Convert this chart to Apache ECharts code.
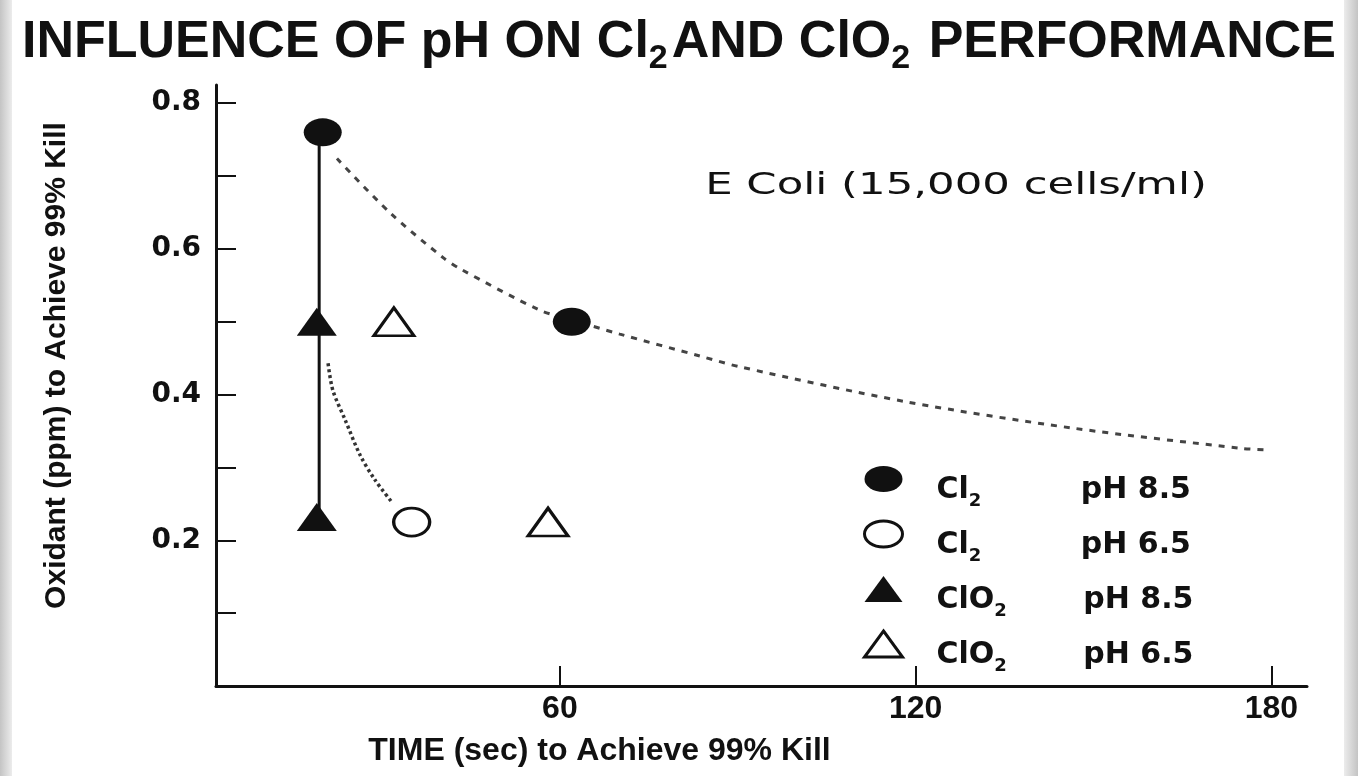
<!DOCTYPE html>
<html>
<head>
<meta charset="utf-8">
<title>Influence of pH on Cl2 and ClO2 performance</title>
<script src="https://cdn.jsdelivr.net/npm/echarts@6/dist/echarts.min.js"></script>
<style>
  html, body { margin: 0; padding: 0; background: #fff; }
  #chart { width: 1358px; height: 776px; }
</style>
</head>
<body>
<div id="chart"></div>
<script>
const seriesNames = ['Cl2 pH 8.5', 'Cl2 pH 6.5', 'ClO2 pH 8.5', 'ClO2 pH 6.5'];
const chemLabels = ['Cl', 'Cl', 'ClO', 'ClO'];
const phLabels = ['pH 8.5', 'pH 6.5', 'pH 8.5', 'pH 6.5'];

// [time (sec), oxidant (ppm)]
const cl2High = [[20, 0.76], [62, 0.5]];
const cl2Low = [[35, 0.225]];
const clo2High = [[19, 0.5], [19, 0.232]];
const clo2Low = [[32, 0.5], [58, 0.225]];
const verticalLink = [[19.4, 0.76], [19.4, 0.232]];

// hand-drawn fit curves
const cl2HighCurve = [
  [22.4, 0.724], [31.3, 0.65], [40.3, 0.588], [43.1, 0.573], [56.6, 0.516],
  [62.2, 0.502], [70.1, 0.483], [83.6, 0.453], [90.4, 0.438], [118.5, 0.39],
  [146.5, 0.354], [175.2, 0.326], [179.4, 0.324]
];
const cl2LowCurve = [
  [20.9, 0.443], [21.7, 0.406], [23.8, 0.365], [26.3, 0.317], [28.8, 0.283], [31.7, 0.252]
];

const xTicks = [60, 120, 180];
const yTicks = [0.1, 0.2, 0.3, 0.4, 0.5, 0.6, 0.7, 0.8];
const yLabels = [0.2, 0.4, 0.6, 0.8];

const ink = '#111';
const ellipseIcon = 'path://M0,10a10,10 0 1,0 20,0a10,10 0 1,0 -20,0z';
const chart = echarts.init(document.getElementById('chart'));

function markerSeries(name, data, symbol, size, hollow) {
  return {
    name: name,
    type: 'scatter',
    data: data,
    symbol: symbol,
    symbolSize: size,
    z: 5,
    itemStyle: hollow
      ? { color: '#fff', borderColor: ink, borderWidth: 3, opacity: 1 }
      : { color: ink, opacity: 1 },
    emphasis: { disabled: true }
  };
}

const legendRich = {
  c: { fontFamily: 'DejaVu Sans', fontWeight: 'bold', fontSize: 30, lineHeight: 30, verticalAlign: 'top', padding: [11, 0, 0, 29], color: ink },
  s1: { fontFamily: 'DejaVu Sans', fontWeight: 'bold', fontSize: 18, lineHeight: 18, verticalAlign: 'top', padding: [28, 0, 0, 0], width: 112, color: ink },
  s2: { fontFamily: 'DejaVu Sans', fontWeight: 'bold', fontSize: 18, lineHeight: 18, verticalAlign: 'top', padding: [28, 0, 0, 0], width: 89, color: ink },
  p: { fontFamily: 'DejaVu Sans', fontWeight: 'bold', fontSize: 30, lineHeight: 30, verticalAlign: 'top', padding: [11, 0, 0, 0], color: ink }
};

const option = {
  backgroundColor: '#fff',
  animation: false,
  title: {
    text: '{t|INFLUENCE OF pH ON Cl}{s|2}{t|AND ClO}{s|2}{t| PERFORMANCE}',
    left: 'center',
    top: 12,
    textStyle: {
      rich: {
        t: { fontFamily: 'Liberation Sans', fontWeight: 'bold', fontSize: 52, lineHeight: 54, verticalAlign: 'top', color: ink },
        s: { fontFamily: 'Liberation Sans', fontWeight: 'bold', fontSize: 34, lineHeight: 34, verticalAlign: 'top', padding: [25, 4, 0, 0], color: ink }
      }
    }
  },
  grid: {
    left: 216,
    right: 51,
    top: 85,
    bottom: 90,
    containLabel: false,
    outerBoundsMode: 'none'
  },
  xAxis: {
    type: 'value',
    min: 2,
    max: 186,
    name: 'TIME (sec) to Achieve 99% Kill',
    nameLocation: 'middle',
    nameGap: 49,
    nameTextStyle: {
      fontFamily: 'Liberation Sans', fontWeight: 'bold', fontSize: 32, color: ink,
      padding: [0, 324, 0, 0]
    },
    axisLine: { lineStyle: { color: ink, width: 3 } },
    axisTick: { inside: true, length: 20, customValues: xTicks, lineStyle: { color: ink, width: 2 } },
    axisLabel: {
      customValues: xTicks,
      margin: 7,
      fontFamily: 'Liberation Sans', fontWeight: 'bold', fontSize: 32, color: ink
    },
    splitLine: { show: false }
  },
  yAxis: {
    type: 'value',
    min: 0,
    max: 0.825,
    name: 'Oxidant (ppm) to Achieve 99% Kill',
    nameLocation: 'middle',
    nameGap: 144,
    nameTextStyle: {
      fontFamily: 'Liberation Sans', fontWeight: 'bold', fontSize: 30, color: ink,
      padding: [0, 0, 0, 40]
    },
    axisLine: { show: true, lineStyle: { color: ink, width: 3 } },
    axisTick: { show: true, inside: true, length: 20, customValues: yTicks, lineStyle: { color: ink, width: 2 } },
    axisLabel: {
      customValues: yLabels,
      formatter: v => v.toFixed(1),
      margin: 15,
      fontFamily: 'DejaVu Sans', fontWeight: 'bold', fontSize: 28, color: ink
    },
    splitLine: { show: false }
  },
  legend: {
    data: [
      { name: seriesNames[0], icon: ellipseIcon },
      { name: seriesNames[1], icon: ellipseIcon, itemStyle: { borderWidth: 3 } },
      { name: seriesNames[2] },
      { name: seriesNames[3], itemStyle: { borderWidth: 3 } }
    ],
    orient: 'vertical',
    left: 863,
    top: 464,
    padding: 0,
    itemWidth: 38,
    itemHeight: 26,
    itemGap: 9,
    symbolKeepAspect: false,
    selectedMode: false,
    formatter: function (name) {
      const i = seriesNames.indexOf(name);
      const sub = i < 2 ? 's1' : 's2';
      return '{c|' + chemLabels[i] + '}{' + sub + '|2}{p|' + phLabels[i] + '}';
    },
    textStyle: { rich: legendRich }
  },
  graphic: [
    {
      type: 'rect', left: 0, top: 0, z: -10, silent: true,
      shape: { width: 12, height: 776 },
      style: { fill: new echarts.graphic.LinearGradient(0, 0, 1, 0, [{ offset: 0, color: '#c4c4c4' }, { offset: 1, color: '#ececec' }]) }
    },
    {
      type: 'rect', right: 0, top: 0, z: -10, silent: true,
      shape: { width: 14, height: 776 },
      style: { fill: new echarts.graphic.LinearGradient(0, 0, 1, 0, [{ offset: 0, color: '#ececec' }, { offset: 1, color: '#c4c4c4' }]) }
    },
    {
      type: 'text', x: 956, y: 186, scaleX: 1.4, silent: true,
      style: {
        text: 'E Coli (15,000 cells/ml)',
        align: 'center', verticalAlign: 'middle',
        font: '31px "DejaVu Sans"', fill: ink
      }
    }
  ],
  series: [
    {
      name: 'ClO2 link',
      type: 'line',
      data: verticalLink,
      symbol: 'none',
      lineStyle: { color: ink, width: 3 },
      z: 3,
      silent: true
    },
    {
      name: 'Cl2 pH 8.5 curve',
      type: 'line',
      data: cl2HighCurve,
      smooth: 0.3,
      symbol: 'none',
      lineStyle: { color: '#444', width: 3, type: [6, 7] },
      z: 2,
      silent: true
    },
    {
      name: 'Cl2 pH 6.5 curve',
      type: 'line',
      data: cl2LowCurve,
      smooth: 0.3,
      symbol: 'none',
      lineStyle: { color: '#333', width: 3.5, type: [3, 3] },
      z: 2,
      silent: true
    },
    markerSeries(seriesNames[0], cl2High, 'circle', [38, 28], false),
    markerSeries(seriesNames[1], cl2Low, 'circle', [36, 28], true),
    markerSeries(seriesNames[2], clo2High, 'triangle', [40, 28], false),
    markerSeries(seriesNames[3], clo2Low, 'triangle', [40, 28], true)
  ]
};

chart.setOption(option);
</script>
</body>
</html>
